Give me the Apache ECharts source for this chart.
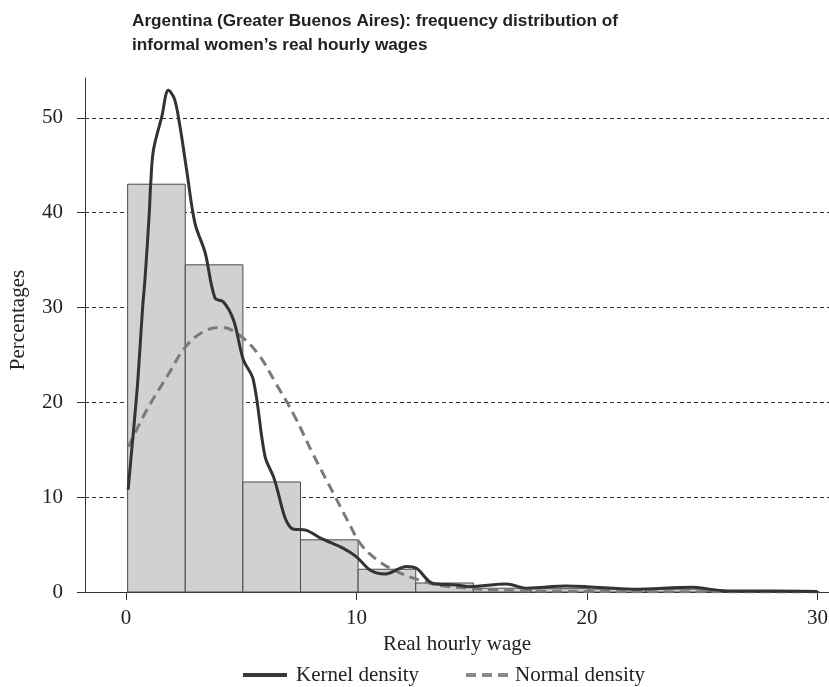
<!DOCTYPE html>
<html>
<head>
<meta charset="utf-8">
<script src="https://cdn.jsdelivr.net/npm/echarts@6/dist/echarts.min.js"></script>
<style>html,body{margin:0;padding:0;background:#fff}#c{width:829px;height:687px}</style>
</head>
<body>
<div id="c"></div>
<script>
// Histogram bins (left edges) and percentages
var binStarts = [0.07, 2.57, 5.07, 7.57, 10.07, 12.57, 15.07, 17.57, 20.07, 22.57, 25.07, 27.57];
var binWidth = 2.5;
var binHeights = [43.0, 34.5, 11.6, 5.5, 2.4, 0.95, 0.4, 0.35, 0.3, 0.3, 0.1, 0.05];

// Kernel density curve
var kernelX = [0.09, 0.47, 0.6, 0.72, 0.82, 1.01, 1.07, 1.19, 1.55, 1.84, 2.1, 2.34, 2.63, 2.99, 3.43, 3.86, 4.22, 4.66, 5.09, 5.52, 6.03, 6.39, 7.19, 7.84, 8.42, 9.43, 10.0, 10.6, 11.24, 12.18, 12.6, 13.33, 14.35, 14.9, 16.5, 17.4, 19.1, 20.0, 22.0, 24.6, 25.3, 26.2, 28.0, 30.0];
var kernelY = [10.8, 21.0, 25.5, 30.0, 32.9, 40.0, 43.0, 46.6, 50.1, 52.9, 52.0, 49.1, 44.5, 38.9, 35.8, 31.0, 30.6, 28.7, 24.5, 22.4, 14.3, 12.2, 6.7, 6.5, 5.7, 4.6, 3.7, 2.3, 1.9, 2.7, 2.5, 0.9, 0.74, 0.56, 0.84, 0.4, 0.63, 0.56, 0.3, 0.5, 0.3, 0.1, 0.1, 0.05];

// Normal density curve
var normalX = [0.1, 0.9, 1.8, 2.6, 3.4, 4.1, 4.8, 5.7, 6.5, 7.3, 8.1, 9.0, 9.6, 10.2, 11.0, 11.9, 12.8, 13.6, 14.8, 16.0, 18.0, 20.0, 25.0, 30.0];
var normalY = [15.3, 19.2, 22.8, 25.9, 27.5, 27.9, 27.3, 25.2, 22.0, 18.6, 14.6, 10.4, 7.6, 5.0, 3.2, 2.0, 1.2, 0.7, 0.4, 0.2, 0.1, 0.05, 0.02, 0.0];

// Axis ticks
var xTicks = [0, 10, 20, 30];
var yTicks = [0, 10, 20, 30, 40, 50];
var legendNames = ['Kernel density', 'Normal density'];

function zip(a, b) { return a.map(function (v, i) { return [v, b[i]]; }); }
var histData = binStarts.map(function (s, i) { return [s, s + binWidth, binHeights[i]]; });

var serif = 'Liberation Serif';
var fs = 21;
var chart = echarts.init(document.getElementById('c'), null, { renderer: 'canvas' });
chart.setOption({
  animation: false,
  backgroundColor: '#fff',
  title: {
    text: 'Argentina (Greater Buenos Aires): frequency distribution of\ninformal women\u2019s real hourly wages',
    left: 127, top: 4,
    textStyle: { fontFamily: 'Liberation Sans', fontWeight: 'bold', fontSize: 17.2, lineHeight: 24, color: '#222' }
  },
  graphic: [
    { type: 'line', shape: { x1: 243, y1: 675, x2: 287, y2: 675 }, style: { stroke: '#3a3a3a', lineWidth: 4 } },
    { type: 'text', x: 296, y: 675, style: { text: legendNames[0], font: fs + 'px "Liberation Serif"', fill: '#222', verticalAlign: 'middle' } },
    { type: 'line', shape: { x1: 466, y1: 675, x2: 510, y2: 675 }, style: { stroke: '#8a8a8a', lineWidth: 4, lineDash: [10, 6] } },
    { type: 'text', x: 515, y: 675, style: { text: legendNames[1], font: fs + 'px "Liberation Serif"', fill: '#222', verticalAlign: 'middle' } }
  ],
  grid: { left: 85, right: 0, top: 78, bottom: 95, containLabel: false, outerBoundsMode: 'none' },
  xAxis: {
    type: 'value', min: -1.78, max: 30.5,
    name: 'Real hourly wage', nameLocation: 'middle', nameGap: 35,
    nameTextStyle: { fontFamily: serif, fontSize: fs, color: '#222' },
    axisLine: { show: true, onZero: false, lineStyle: { color: '#333', width: 1 } },
    axisTick: { show: true, length: 8, customValues: xTicks, lineStyle: { color: '#333' } },
    axisLabel: { customValues: xTicks, fontFamily: serif, fontSize: fs, color: '#222', margin: 16 },
    splitLine: { show: false }
  },
  yAxis: {
    type: 'value', min: 0, max: 54.2, interval: 10,
    name: 'Percentages', nameLocation: 'middle', nameGap: 56, nameRotate: 90,
    nameTextStyle: { fontFamily: serif, fontSize: fs, color: '#222', padding: [0, 0, 0, 30] },
    axisLine: { show: true, onZero: false, lineStyle: { color: '#333', width: 1 } },
    axisTick: { show: true, length: 8, customValues: yTicks, lineStyle: { color: '#333' } },
    axisLabel: { customValues: yTicks, fontFamily: serif, fontSize: fs, color: '#222', margin: 22 },
    splitLine: { show: true, showMinLine: false, showMaxLine: true, lineStyle: { color: '#333', width: 1, type: [4, 3] } }
  },
  series: [
    {
      type: 'custom', name: 'hist', silent: true, z: 1,
      data: histData,
      encode: { x: [0, 1], y: 2 },
      renderItem: function (params, api) {
        var p0 = api.coord([api.value(0), api.value(2)]);
        var p1 = api.coord([api.value(1), 0]);
        return {
          type: 'rect',
          shape: { x: p0[0], y: p0[1], width: p1[0] - p0[0], height: p1[1] - p0[1] },
          style: { fill: '#d0d1d3', stroke: '#4a4a4a', lineWidth: 1 }
        };
      }
    },
    {
      type: 'line', name: legendNames[0], data: zip(kernelX, kernelY),
      showSymbol: false, symbol: 'none', smooth: 0.35, z: 3,
      lineStyle: { color: '#333', width: 3 }, itemStyle: { color: '#333' }
    },
    {
      type: 'line', name: legendNames[1], data: zip(normalX, normalY),
      showSymbol: false, symbol: 'none', smooth: 0.4, z: 2,
      lineStyle: { color: '#7a7a7a', width: 3, type: [10, 6] }, itemStyle: { color: '#7a7a7a' }
    }
  ]
});
</script>
</body>
</html>
